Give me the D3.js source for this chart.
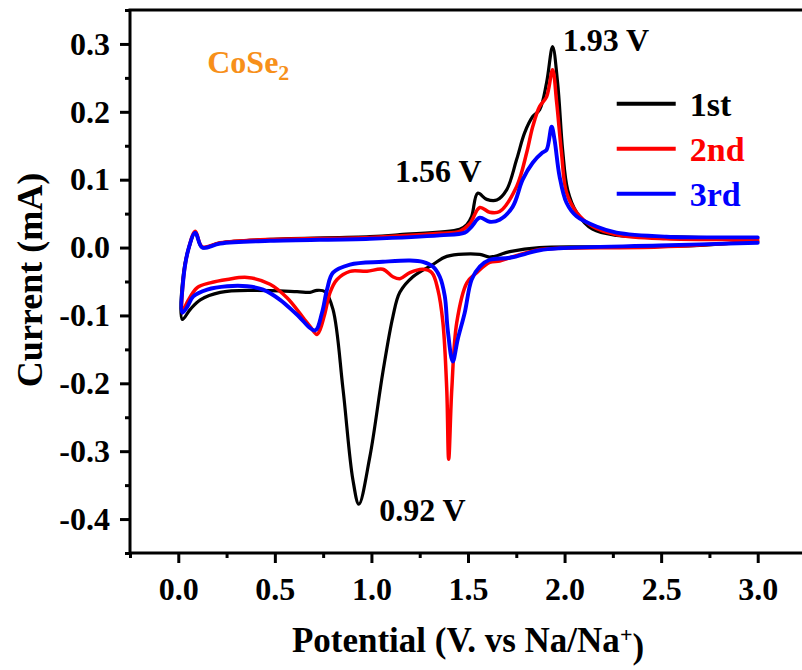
<!DOCTYPE html>
<html>
<head>
<meta charset="utf-8">
<script src="https://cdn.jsdelivr.net/npm/d3@7"></script>
<style>
  body { margin: 0; background: #fff; }
  svg { display: block; }
</style>
</head>
<body>
<div class="chart"></div>
<script>
// CV curves of CoSe2, [potential (V), current (mA)], cathodic sweep then anodic sweep
const cycle1 = [
  [3.0, 0.010], [2.70, 0.003], [2.18, 0.001], [1.87, 0.0], [1.716, -0.006], [1.612, -0.014],
  [1.561, -0.010], [1.39, -0.013], [1.318, -0.025], [1.215, -0.043], [1.147, -0.066],
  [1.111, -0.102], [1.059, -0.184], [0.992, -0.308], [0.935, -0.378], [0.904, -0.342],
  [0.853, -0.209], [0.801, -0.091], [0.760, -0.065], [0.718, -0.063], [0.682, -0.066],
  [0.615, -0.065], [0.388, -0.063], [0.217, -0.066], [0.114, -0.077], [0.062, -0.091],
  [0.021, -0.106],
  [0.026, -0.040], [0.052, -0.003], [0.088, 0.022], [0.124, 0.0], [0.217, 0.007],
  [0.475, 0.012], [0.992, 0.016], [1.147, 0.019], [1.457, 0.027], [1.494, 0.034],
  [1.519, 0.046], [1.55, 0.080], [1.597, 0.071], [1.649, 0.070], [1.70, 0.085],
  [1.752, 0.130], [1.793, 0.169], [1.835, 0.193], [1.871, 0.203], [1.907, 0.243],
  [1.938, 0.296], [1.964, 0.243], [1.99, 0.144], [2.016, 0.085], [2.062, 0.052],
  [2.145, 0.027], [2.269, 0.018], [2.527, 0.016], [2.868, 0.014], [3.0, 0.014]
];
const cycle2 = [
  [3.0, 0.009], [2.49, 0.001], [1.974, -0.001], [1.871, -0.003], [1.716, -0.015],
  [1.664, -0.020], [1.612, -0.022], [1.545, -0.037], [1.494, -0.052], [1.442, -0.110],
  [1.416, -0.209], [1.40, -0.312], [1.39, -0.209], [1.37, -0.110], [1.344, -0.062],
  [1.313, -0.037], [1.266, -0.032], [1.199, -0.037], [1.147, -0.046], [1.111, -0.043],
  [1.059, -0.032], [0.977, -0.035], [0.889, -0.035], [0.822, -0.047], [0.786, -0.066],
  [0.760, -0.096], [0.734, -0.121], [0.718, -0.128], [0.682, -0.116], [0.646, -0.103],
  [0.563, -0.074], [0.475, -0.054], [0.357, -0.044], [0.253, -0.047], [0.165, -0.052],
  [0.098, -0.059], [0.047, -0.080], [0.021, -0.096],
  [0.026, -0.047], [0.052, -0.003], [0.088, 0.024], [0.124, 0.001], [0.217, 0.007],
  [0.475, 0.012], [0.992, 0.015], [1.354, 0.021], [1.457, 0.024], [1.509, 0.035],
  [1.561, 0.059], [1.612, 0.052], [1.664, 0.053], [1.752, 0.090], [1.804, 0.140],
  [1.835, 0.178], [1.871, 0.208], [1.907, 0.222], [1.938, 0.262], [1.959, 0.214],
  [1.984, 0.140], [2.01, 0.081], [2.062, 0.052], [2.145, 0.031], [2.269, 0.019],
  [2.527, 0.013], [2.868, 0.012], [3.0, 0.012]
];
const cycle3 = [
  [3.0, 0.007], [2.49, 0.003], [1.974, -0.001], [1.871, -0.004], [1.716, -0.015],
  [1.612, -0.018], [1.561, -0.028], [1.519, -0.047], [1.483, -0.096], [1.447, -0.135],
  [1.421, -0.168], [1.395, -0.121], [1.38, -0.072], [1.354, -0.043], [1.318, -0.028],
  [1.266, -0.021], [1.199, -0.019], [1.059, -0.021], [0.889, -0.025], [0.801, -0.037],
  [0.77, -0.062], [0.744, -0.096], [0.708, -0.122], [0.615, -0.099], [0.527, -0.077],
  [0.439, -0.062], [0.357, -0.057], [0.253, -0.057], [0.15, -0.062], [0.078, -0.072],
  [0.047, -0.087], [0.021, -0.096],
  [0.026, -0.047], [0.052, -0.003], [0.088, 0.022], [0.124, 0.0], [0.217, 0.006],
  [0.475, 0.010], [0.992, 0.013], [1.354, 0.018], [1.483, 0.022], [1.519, 0.031],
  [1.561, 0.044], [1.612, 0.038], [1.664, 0.041], [1.731, 0.060], [1.783, 0.100],
  [1.835, 0.125], [1.886, 0.140], [1.907, 0.144], [1.933, 0.178], [1.948, 0.159],
  [1.974, 0.105], [2.01, 0.066], [2.062, 0.046], [2.165, 0.031], [2.269, 0.022],
  [2.527, 0.016], [2.868, 0.015], [3.0, 0.015]
];

const cycleNames = ["1st", "2nd", "3rd"];
const cycleColors = ["#000000", "#ff0000", "#0000ff"];
const cycles = [cycle1, cycle2, cycle3];

const xTicks = [0, 0.5, 1.0, 1.5, 2.0, 2.5, 3.0];
const yTicks = [-0.4, -0.3, -0.2, -0.1, 0.0, 0.1, 0.2, 0.3];

const font = "'Liberation Serif', 'Times New Roman', serif";

const margin = ({top: 10, right: 0, bottom: 117, left: 130});
const width = 676;
const height = 543;

const svg = d3.select('.chart').append('svg')
    .attr("width", 802)
    .attr("height", 670)
    .append("g")
    .attr("transform", `translate(${margin.left},${margin.top})`);

const xScale = d3.scaleLinear().domain([-0.25, 3.25]).range([0, width]);
const yScale = d3.scaleLinear().domain([-0.45, 0.35]).range([height, 0]);

// minor ticks
svg.append("g")
    .attr("transform", `translate(0,${height})`)
    .call(d3.axisBottom(xScale).tickValues(d3.range(-0.25, 3.3, 0.5)).tickSize(5).tickFormat(""))
    .call(g => g.select(".domain").remove())
    .selectAll("line").attr("stroke-width", 3);

svg.append("g")
    .call(d3.axisLeft(yScale).tickValues(d3.range(-0.45, 0.36, 0.1)).tickSize(5).tickFormat(""))
    .call(g => g.select(".domain").remove())
    .selectAll("line").attr("stroke-width", 3);

// major ticks
const xAxisGroup = svg.append("g")
    .attr("transform", `translate(0,${height})`)
    .call(d3.axisBottom(xScale).tickValues(xTicks).tickSize(10).tickPadding(14).tickFormat(d3.format(".1f")))
    .call(g => g.select(".domain").remove());

const yAxisGroup = svg.append("g")
    .call(d3.axisLeft(yScale).tickValues(yTicks).tickSize(10).tickPadding(10).tickFormat(d3.format(".1f")))
    .call(g => g.select(".domain").remove());

[xAxisGroup, yAxisGroup].forEach(g => {
  g.selectAll("line").attr("stroke-width", 3);
  g.selectAll("text")
      .attr("font-family", font)
      .attr("font-weight", "bold")
      .attr("font-size", "32px")
      .attr("fill", "#000");
});
yAxisGroup.selectAll("text").text(d => d3.format(".1f")(d).replace("−", "-"));

// frame
svg.append("rect")
    .attr("width", width)
    .attr("height", height)
    .attr("fill", "none")
    .attr("stroke", "#000")
    .attr("stroke-width", 3);

// curves
const line = d3.line()
    .curve(d3.curveCatmullRom)
    .x(d => xScale(d[0]))
    .y(d => yScale(d[1]));

const strokeW = [3.2, 3.5, 3.9];
svg.append("g")
    .selectAll("path")
    .data(cycles)
    .join("path")
    .attr("fill", "none")
    .attr("stroke", (d, i) => cycleColors[i])
    .attr("stroke-width", (d, i) => strokeW[i])
    .attr("stroke-linejoin", "round")
    .attr("stroke-linecap", "round")
    .attr("d", line);

// legend
const legend = svg.append("g")
    .attr("transform", `translate(${xScale(2.27)},${yScale(0.212)})`);

legend.selectAll("line")
    .data(cycleNames)
    .join("line")
    .attr("x1", 0)
    .attr("x2", 59)
    .attr("y1", (d, i) => i * 45)
    .attr("y2", (d, i) => i * 45)
    .attr("stroke", (d, i) => cycleColors[i])
    .attr("stroke-width", 4);

legend.selectAll("text")
    .data(cycleNames)
    .join("text")
    .attr("x", 73)
    .attr("y", (d, i) => i * 45)
    .attr("dy", "0.35em")
    .attr("font-family", font)
    .attr("font-weight", "bold")
    .attr("font-size", "34px")
    .attr("fill", (d, i) => cycleColors[i])
    .text(d => d);

// peak annotations
function note(text, x, y, anchor) {
  svg.append("text")
      .attr("x", xScale(x))
      .attr("y", yScale(y))
      .attr("text-anchor", anchor)
      .attr("font-family", font)
      .attr("font-weight", "bold")
      .attr("font-size", "32px")
      .attr("fill", "#000")
      .text(text);
}
note("1.93 V", 1.99, 0.29, "start");
note("1.56 V", 1.57, 0.097, "end");
note("0.92 V", 1.04, -0.403, "start");

// sample name
const cose = svg.append("text")
    .attr("x", xScale(0.15))
    .attr("y", yScale(0.257))
    .attr("font-family", font)
    .attr("font-weight", "bold")
    .attr("font-size", "32px")
    .attr("fill", "#f7901a");
cose.append("tspan").text("CoSe");
cose.append("tspan").attr("dy", "0.3em").attr("font-size", "22px").text("2");

// axis titles
svg.append("text")
    .attr("x", xScale(1.5))
    .attr("y", height + 99)
    .attr("text-anchor", "middle")
    .attr("font-family", font)
    .attr("font-weight", "bold")
    .attr("font-size", "35px")
    .attr("fill", "#000")
    .call(t => {
      t.append("tspan").text("Potential (V. vs Na/Na");
      t.append("tspan").attr("dy", "-0.45em").attr("font-size", "22px").text("+");
      t.append("tspan").attr("dy", "0.45em").text(")");
    });

svg.append("text")
    .attr("transform", `translate(${42 - margin.left},${280 - margin.top}) rotate(-90)`)
    .attr("text-anchor", "middle")
    .attr("font-family", font)
    .attr("font-weight", "bold")
    .attr("font-size", "36px")
    .attr("fill", "#000")
    .text("Current (mA)");
</script>
</body>
</html>
